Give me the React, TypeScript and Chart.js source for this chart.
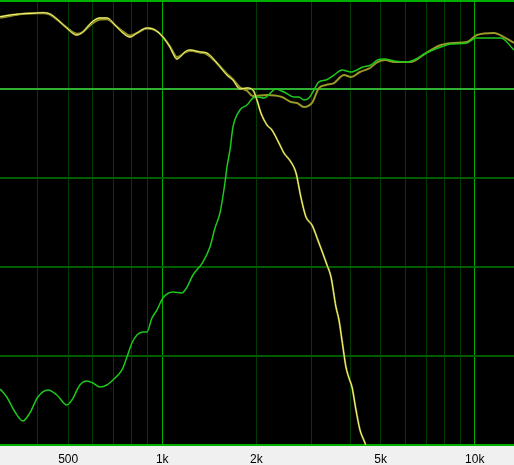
import React, { useEffect, useRef } from "react";
import { Chart, registerables } from "chart.js";

Chart.register(...registerables);

// Woofer response (yellow), frequency in Hz, level in dB
const wooferFreq = [303, 326, 350, 386, 415, 437, 464, 495, 533, 557, 596, 632, 665, 706, 749, 788, 830, 893, 934, 969, 1005, 1058, 1098, 1114, 1139, 1182, 1226, 1320, 1390, 1496, 1611, 1684, 1773, 1866, 1951, 2009, 2069, 2163, 2244, 2362, 2451, 2581, 2678, 2779, 2883, 3013, 3172, 3366, 3467, 3596, 3677, 3758, 3871, 3958, 4047, 4168, 4292, 4453, 4650];
const wooferDb = [8.12, 8.31, 8.43, 8.51, 8.57, 8.43, 7.75, 6.85, 6.07, 6.4, 7.53, 7.98, 7.98, 7.19, 6.29, 5.84, 6.29, 6.85, 6.74, 6.4, 5.84, 4.72, 3.6, 3.37, 3.6, 4.16, 4.38, 4.16, 4.04, 2.92, 1.57, 1.01, 0, 0.11, -0.11, -1.24, -2.7, -4.04, -4.61, -6.07, -7.19, -8.2, -9.4, -12.2, -14.38, -15.28, -17.3, -19.78, -21.12, -24.49, -25.96, -28.2, -31.24, -32.47, -33.48, -36.07, -38.31, -39.78, -42];

// Tweeter response (green)
const tweeterFreq = [303, 318, 338, 358, 377, 400, 431, 460, 495, 514, 545, 574, 600, 632, 665, 706, 743, 771, 800, 830, 867, 893, 927, 962, 1005, 1082, 1156, 1200, 1254, 1349, 1421, 1475, 1530, 1587, 1611, 1647, 1684, 1773, 1866, 1951, 2024, 2115, 2311, 2451, 2639, 2738, 2841, 2947, 3058, 3172, 3341, 3544, 3758, 4017, 4388, 4655, 4883, 5140, 5514, 6067, 6388, 6980, 7794, 8389, 9441, 10090, 10940, 12130, 13350];
const tweeterDb = [-33.71, -34.61, -36.29, -37.3, -36.4, -34.61, -33.82, -34.38, -35.51, -34.94, -33.26, -32.81, -33.03, -33.48, -33.26, -32.47, -31.57, -30.11, -28.54, -27.64, -27.3, -27.3, -25.73, -24.83, -23.48, -22.81, -22.92, -22.25, -20.9, -19.44, -17.75, -15.62, -13.93, -10.56, -8.76, -6.85, -4.27, -2.36, -1.8, -1.01, -0.9, -1.01, 0, -0.34, -0.9, -0.9, -1.24, -1.01, -0.11, 0.79, 1.01, 1.57, 2.13, 1.91, 2.47, 2.7, 3.26, 3.37, 3.15, 3.03, 3.26, 4.04, 4.72, 5.06, 5.17, 5.73, 5.73, 5.73, 4.38];

// Summed response (olive)
const sumFreq = [303, 326, 350, 386, 415, 437, 464, 495, 533, 557, 596, 632, 665, 706, 749, 788, 830, 893, 934, 969, 1005, 1058, 1098, 1114, 1139, 1182, 1226, 1320, 1390, 1496, 1611, 1684, 1773, 1866, 1951, 2163, 2415, 2581, 2698, 2841, 3013, 3172, 3341, 3544, 3814, 4017, 4292, 4620, 4883, 5178, 5514, 6248, 6980, 7794, 8578, 9441, 10160, 11520, 12400, 13350];
const sumDb = [8.0, 8.2, 8.4, 8.5, 8.5, 8.35, 7.7, 6.9, 6.2, 6.4, 7.35, 7.8, 7.85, 7.2, 6.45, 6.0, 6.3, 6.8, 6.7, 6.4, 5.85, 4.8, 3.8, 3.6, 3.7, 4.1, 4.3, 4.1, 3.9, 2.9, 1.7, 1.1, 0.2, -0.2, -0.79, -0.67, -0.9, -1.46, -1.57, -2.02, -1.57, 0.11, 0.45, 0.67, 1.57, 1.35, 1.91, 2.36, 3.03, 3.26, 3.03, 3.03, 4.04, 4.94, 5.17, 5.28, 6.07, 6.29, 5.84, 5.17];

// Axis definitions
const gridFreqs = [400, 500, 600, 700, 800, 900, 1000, 2000, 3000, 4000, 5000, 6000, 7000, 8000, 9000, 10000];
const majorFreqs = [1000, 10000];
const tickLabelFreqs = [500, 1000, 2000, 5000, 10000];
const tickLabelTexts = ["500", "1k", "2k", "5k", "10k"];
const freqMin = 302.6;
const freqMax = 13350;
const dbMin = -40;
const dbMax = 10;
const dbStep = 10;

const toPoints = (fs: number[], vs: number[]) => fs.map((f, i) => ({ x: f, y: vs[i] }));

const backgroundPlugin = {
  id: "bg",
  beforeDraw(chart: any) {
    const { ctx, chartArea, width, height } = chart;
    ctx.save();
    ctx.fillStyle = "#f0f0f0";
    ctx.fillRect(0, 0, width, height);
    ctx.fillStyle = "#000000";
    ctx.fillRect(chartArea.left, chartArea.top, chartArea.right - chartArea.left, chartArea.bottom - chartArea.top);
    ctx.restore();
  },
};

export default function App() {
  const ref = useRef<HTMLCanvasElement | null>(null);

  useEffect(() => {
    const canvas = ref.current;
    if (!canvas) return;
    const chart = new Chart(canvas, {
      type: "line",
      data: {
        datasets: [
          {
            label: "Woofer",
            data: toPoints(wooferFreq, wooferDb),
            borderColor: "#ffff78",
            borderWidth: 1,
            pointRadius: 0,
            cubicInterpolationMode: "monotone",
            order: 0,
          },
          {
            label: "Tweeter",
            data: toPoints(tweeterFreq, tweeterDb),
            borderColor: "#1cc81c",
            borderWidth: 1.5,
            pointRadius: 0,
            cubicInterpolationMode: "monotone",
            order: 1,
          },
          {
            label: "Woofer (shadow)",
            data: toPoints(wooferFreq, wooferDb),
            borderColor: "#86862a",
            borderWidth: 2,
            pointRadius: 0,
            cubicInterpolationMode: "monotone",
            order: 2,
          },
          {
            label: "Sum",
            data: toPoints(sumFreq, sumDb),
            borderColor: "#999926",
            borderWidth: 2,
            pointRadius: 0,
            cubicInterpolationMode: "monotone",
            order: 3,
          },
        ],
      },
      options: {
        animation: false,
        responsive: false,
        devicePixelRatio: 1,
        layout: { padding: 0 },
        plugins: {
          legend: { display: false },
          tooltip: { enabled: false },
        },
        scales: {
          x: {
            type: "logarithmic",
            position: "bottom",
            min: freqMin,
            max: freqMax,
            afterBuildTicks: (axis: any) => {
              axis.ticks = gridFreqs.map((v) => ({ value: v }));
            },
            afterFit: (axis: any) => {
              axis.height = 20;
            },
            border: { display: false },
            grid: {
              drawTicks: false,
              color: (c: any) => (majorFreqs.includes(c.tick?.value) ? "#00b000" : "#003c00"),
              lineWidth: 1,
            },
            ticks: {
              autoSkip: false,
              maxRotation: 0,
              padding: 7,
              color: "#000000",
              font: { family: "'Liberation Sans', Arial, sans-serif", size: 12 },
              callback: (v: any) => {
                const i = tickLabelFreqs.indexOf(Number(v));
                return i >= 0 ? tickLabelTexts[i] : "";
              },
            },
          },
          y: {
            type: "linear",
            position: "left",
            min: dbMin,
            max: dbMax,
            afterFit: (axis: any) => {
              axis.width = 0;
            },
            border: { display: false },
            grid: {
              drawTicks: false,
              color: (c: any) => {
                const v = c.tick?.value;
                if (v === dbMax || v === dbMin) return "#00b000";
                if (v === 0) return "#30b030";
                return "#005c00";
              },
              lineWidth: (c: any) => {
                const v = c.tick?.value;
                if (v === dbMax) return 4;
                return 2;
              },
            },
            ticks: { display: false, stepSize: dbStep },
          },
        },
      },
      plugins: [backgroundPlugin],
    });
    return () => chart.destroy();
  }, []);

  return (
    <div style={{ position: "fixed", left: 0, top: 0, width: 514, height: 465 }}>
      <canvas ref={ref} width={514} height={465} style={{ width: 514, height: 465, display: "block" }} />
    </div>
  );
}
